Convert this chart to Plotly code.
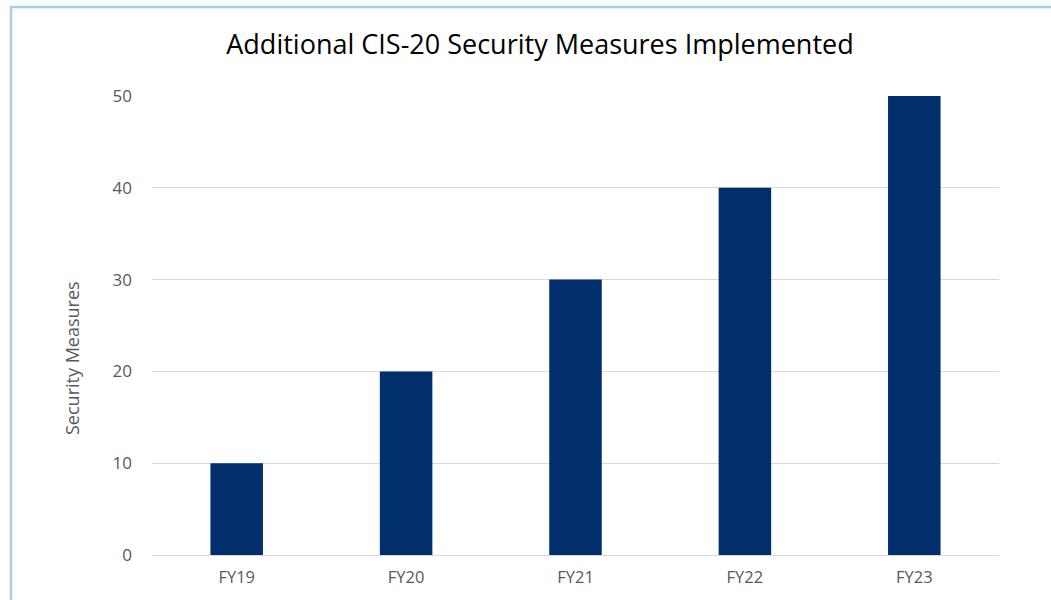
import plotly.graph_objects as go

# Chart data
fiscal_years = ["FY19", "FY20", "FY21", "FY22", "FY23"]
measures = [10, 20, 30, 40, 50]
y_ticks = [0, 10, 20, 30, 40, 50]

W, H = 1051, 600
L, R, T, B = 152, 52, 96, 45
pw, ph = W - L - R, H - T - B


def px_x(x):
    return (x - L) / pw


def px_y(y):
    return (H - B - y) / ph


fig = go.Figure(
    go.Bar(
        x=fiscal_years,
        y=measures,
        marker=dict(color="#002F6C", line=dict(width=0)),
        width=0.31,
    )
)

font_family = "'Open Sans', Lato, sans-serif"

fig.update_layout(
    width=W,
    height=H,
    margin=dict(l=L, r=R, t=T, b=B),
    paper_bgcolor="white",
    plot_bgcolor="white",
    showlegend=False,
    font=dict(family=font_family, color="#595959", size=14),
    title=dict(
        text="Additional CIS-20 Security Measures Implemented",
        x=540 / W,
        xanchor="center",
        y=1 - 45 / H,
        yanchor="middle",
        font=dict(size=27, color="#000000", family=font_family),
    ),
    xaxis=dict(
        showgrid=False,
        showline=True,
        linecolor="#D9D9D9",
        linewidth=1,
        ticks="",
        tickfont=dict(size=16.5, color="#595959"),
        ticklabelstandoff=7,
    ),
    yaxis=dict(
        range=[0, 50],
        tickvals=y_ticks,
        showgrid=True,
        gridcolor="#D9D9D9",
        gridwidth=1,
        zeroline=False,
        showline=False,
        ticks="",
        tickfont=dict(size=17, color="#595959"),
        ticklabelstandoff=19,
    ),
    annotations=[
        dict(
            text="Security Measures",
            xref="paper",
            yref="paper",
            x=px_x(72),
            y=px_y(358),
            xanchor="center",
            yanchor="middle",
            textangle=-90,
            showarrow=False,
            font=dict(size=18, color="#595959", family=font_family),
        )
    ],
    shapes=[
        dict(
            type="rect",
            xref="paper",
            yref="paper",
            x0=px_x(11),
            x1=px_x(W + 20),
            y0=px_y(H + 20),
            y1=px_y(7),
            line=dict(color="#A9CDEE", width=2.5),
            fillcolor="rgba(0,0,0,0)",
            layer="above",
        )
    ],
)

fig.write_html("out.html")
